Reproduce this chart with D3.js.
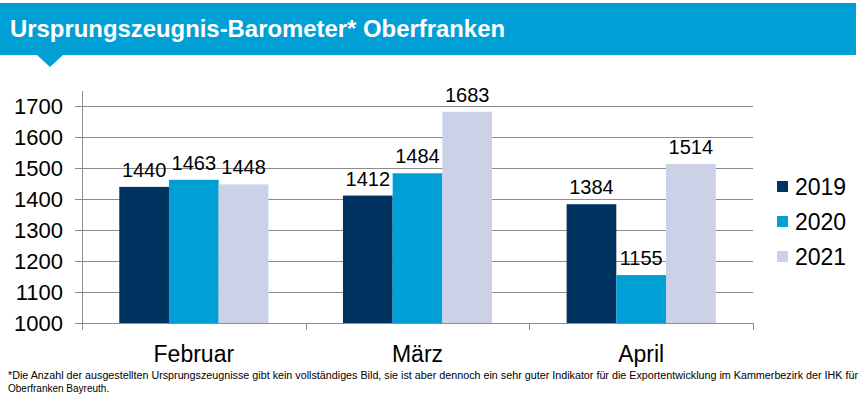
<!DOCTYPE html>
<html>
<head>
<meta charset="utf-8">
<script src="https://cdn.jsdelivr.net/npm/d3@7"></script>
<style>
  body { margin: 0; background: #fff; }
  text { font-family: "Liberation Sans", Arial, sans-serif; }
</style>
</head>
<body>
<script>
// data
var months = ["Februar", "März", "April"];
var years = ["2019", "2020", "2021"];
var values2019 = [1440, 1412, 1384];
var values2020 = [1463, 1484, 1155];
var values2021 = [1448, 1683, 1514];
var yTicks = [1000, 1100, 1200, 1300, 1400, 1500, 1600, 1700];
var colors = ["#00335f", "#009fd6", "#cbd1e7"];

var W = 863, H = 397;
var svg = d3.select("body").append("svg").attr("width", W).attr("height", H);

// header
svg.append("rect").attr("x", 0).attr("y", 3).attr("width", 856).attr("height", 52).attr("fill", "#009fd6");
svg.append("path").attr("d", "M37,55 L63,55 L50,67 Z").attr("fill", "#009fd6");
svg.append("text").attr("x", 10).attr("y", 37)
  .attr("fill", "#fff").attr("font-weight", "bold").attr("font-size", 24)
  .attr("textLength", 495).attr("lengthAdjust", "spacingAndGlyphs")
  .text("Ursprungszeugnis-Barometer* Oberfranken");

// plot area
var plotLeft = 82, plotRight = 753, plotTop = 91, plotBottom = 323;
var y = d3.scaleLinear().domain([1000, 1750]).range([plotBottom, plotTop]);
var x0 = d3.scaleBand().domain(months).range([plotLeft, plotRight]);
var x1 = d3.scaleBand().domain(years).range([x0.bandwidth() / 6, x0.bandwidth() * 5 / 6]);

var series = [values2019, values2020, values2021];
var axisColor = "#8c8c8c";

// gridlines + y ticks
svg.append("g").selectAll("line").data(yTicks.slice(1)).join("line")
  .attr("x1", plotLeft - 7).attr("x2", plotRight)
  .attr("y1", function(d){ return Math.round(y(d)) + 0.5; })
  .attr("y2", function(d){ return Math.round(y(d)) + 0.5; })
  .attr("stroke", axisColor).attr("stroke-width", 1);

svg.append("g").selectAll("text").data(yTicks).join("text")
  .attr("x", 63).attr("y", function(d){ return y(d) + 8; })
  .attr("text-anchor", "end").attr("font-size", 22).attr("fill", "#000")
  .text(function(d){ return d; });

// bars
months.forEach(function(m, i){
  var g = svg.append("g").attr("transform", "translate(" + x0(m) + ",0)");
  years.forEach(function(yr, j){
    var v = series[j][i];
    g.append("rect")
      .attr("x", x1(yr)).attr("width", x1.bandwidth())
      .attr("y", y(v)).attr("height", y(1000) - y(v))
      .attr("fill", colors[j]);
    g.append("text")
      .attr("x", x1(yr) + x1.bandwidth() / 2).attr("y", y(v) - 10)
      .attr("text-anchor", "middle").attr("font-size", 20).attr("fill", "#000")
      .text(v);
  });
});

// axes lines
svg.append("line").attr("x1", plotLeft + 0.5).attr("x2", plotLeft + 0.5).attr("y1", plotTop).attr("y2", plotBottom + 7)
  .attr("stroke", axisColor);
svg.append("line").attr("x1", plotLeft - 7).attr("x2", plotRight).attr("y1", plotBottom + 0.5).attr("y2", plotBottom + 0.5)
  .attr("stroke", axisColor);
svg.append("g").selectAll("line").data(months.concat(["end"])).join("line")
  .attr("x1", function(d, i){ return Math.round(plotLeft + i * x0.step()) + 0.5; })
  .attr("x2", function(d, i){ return Math.round(plotLeft + i * x0.step()) + 0.5; })
  .attr("y1", plotBottom).attr("y2", plotBottom + 7)
  .attr("stroke", axisColor);

svg.append("g").selectAll("text").data(months).join("text")
  .attr("x", function(d){ return x0(d) + x0.bandwidth() / 2; })
  .attr("y", 362).attr("text-anchor", "middle").attr("font-size", 23).attr("fill", "#000")
  .text(function(d){ return d; });

// legend
var leg = svg.append("g").selectAll("g").data(years).join("g")
  .attr("transform", function(d, i){ return "translate(777," + (187 + i * 35) + ")"; });
leg.append("rect").attr("x", 0).attr("y", -6).attr("width", 11).attr("height", 11)
  .attr("fill", function(d, i){ return colors[i]; });
leg.append("text").attr("x", 18).attr("y", 8).attr("font-size", 23).attr("fill", "#000")
  .text(function(d){ return d; });

// footnote
var foot = "\"Liberation Sans Narrow\", \"Liberation Sans\", Arial, sans-serif";
svg.append("text").attr("x", 8).attr("y", 379).attr("font-size", 10).attr("fill", "#000")
  .style("font-family", foot)
  .attr("textLength", 850).attr("lengthAdjust", "spacingAndGlyphs")
  .text("*Die Anzahl der ausgestellten Ursprungszeugnisse gibt kein vollständiges Bild, sie ist aber dennoch ein sehr guter Indikator für die Exportentwicklung im Kammerbezirk der IHK für");
svg.append("text").attr("x", 8).attr("y", 392).attr("font-size", 10).attr("fill", "#000")
  .style("font-family", foot)
  .text("Oberfranken Bayreuth.");
</script>
</body>
</html>
